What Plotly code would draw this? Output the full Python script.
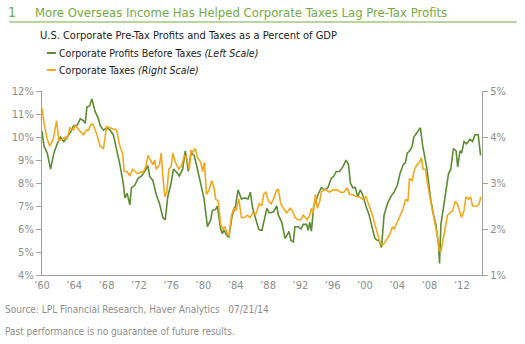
import plotly.graph_objects as go

# Corporate profits before taxes (% of GDP, left scale)
profit_years = [1960.00, 1960.25, 1960.65, 1961.06, 1961.47, 1961.88, 1962.29, 1962.70, 1963.11, 1963.52,
                1963.93, 1964.34, 1964.74, 1965.15, 1965.36, 1965.56, 1965.89, 1966.18, 1966.58, 1966.99,
                1967.20, 1967.61, 1968.02, 1968.43, 1968.83, 1969.24, 1969.65, 1970.06, 1970.27, 1970.55,
                1970.88, 1971.08, 1971.49, 1971.90, 1972.31, 1972.72, 1973.13, 1973.33, 1973.74, 1974.15,
                1974.56, 1974.97, 1975.26, 1975.58, 1975.99, 1976.28, 1976.61, 1977.01, 1977.42, 1977.75,
                1978.12, 1978.45, 1978.85, 1979.26, 1979.67, 1980.08, 1980.49, 1980.90, 1981.10, 1981.51,
                1981.72, 1982.13, 1982.33, 1982.54, 1982.94, 1983.15, 1983.56, 1983.97, 1984.29, 1984.70,
                1985.11, 1985.52, 1985.81, 1986.09, 1986.42, 1986.83, 1987.05,
                1987.24, 1987.85, 1988.14, 1988.67, 1989.08, 1989.28, 1989.69, 1990.10, 1990.31, 1990.59,
                1990.84, 1991.13, 1991.33, 1991.74, 1992.07, 1992.35, 1992.76, 1992.97, 1993.17, 1993.37,
                1993.66, 1993.91, 1994.19, 1994.60, 1995.01, 1995.42, 1995.83, 1996.16, 1996.44, 1996.85,
                1997.26, 1997.67, 1997.96, 1998.20, 1998.49, 1998.81, 1999.10, 1999.43, 1999.71, 2000.12,
                2000.53, 2000.94, 2001.23, 2001.55, 2001.76, 2002.05, 2002.37, 2002.78, 2003.19, 2003.60,
                2004.01, 2004.34, 2004.74, 2005.03, 2005.24, 2005.56, 2005.85, 2006.05, 2006.46, 2006.87,
                2007.16, 2007.48, 2007.69, 2007.89, 2008.18, 2008.51, 2008.79, 2009.12, 2009.24, 2009.41,
                2009.73, 2010.06, 2010.35, 2010.63, 2010.96, 2011.29, 2011.49, 2011.78, 2011.98, 2012.27,
                2012.60, 2013.01, 2013.33, 2013.62, 2014.03, 2014.32]
profit_values = [10.25, 9.6, 9.3, 8.6, 9.3, 9.7, 10.0, 9.8, 10.0, 10.2,
                 10.5, 10.5, 10.8, 10.7, 10.6, 11.3, 11.35, 11.65, 11.1, 10.8,
                 10.5, 10.3, 10.4, 10.3, 10.1, 9.5, 8.8, 8.0, 7.35, 7.55,
                 7.05, 7.8, 7.9, 8.2, 8.3, 8.5, 8.75, 8.3, 8.1, 7.5,
                 7.1, 6.5, 6.4, 7.4, 8.0, 8.6, 8.5, 8.3, 8.6, 9.4,
                 8.5, 9.3, 9.2, 8.6, 7.9, 7.3, 6.1, 6.4, 6.8, 6.85,
                 7.0, 6.0, 5.8, 5.95, 5.7, 5.65, 6.6, 7.0, 7.7, 7.3,
                 7.35, 7.3, 7.6, 6.9, 6.5, 6.0, 5.95,
                 5.94, 6.9, 6.7, 6.74, 7.0, 6.6, 6.3, 5.6, 5.7, 5.9,
                 5.5, 5.44, 6.1, 6.1, 6.0, 6.2, 6.2, 5.94, 6.3, 5.9,
                 7.0, 7.2, 7.5, 7.8, 7.7, 7.8, 8.2, 8.3, 8.5, 8.5,
                 8.7, 9.0, 8.8, 8.0, 7.8, 7.8, 7.4, 7.7, 7.5, 7.0,
                 6.6, 6.0, 5.6, 5.5, 5.5, 5.2, 6.6, 7.1, 7.4, 7.6,
                 7.9, 8.4, 8.8, 8.9, 9.3, 9.4, 9.6, 10.0, 10.2, 10.4,
                 9.6, 9.0, 8.6, 8.0, 7.2, 6.6, 6.2, 5.3, 4.5, 6.2,
                 7.0, 7.8, 8.4, 8.6, 9.5, 9.4, 8.7, 9.4, 9.3, 9.8,
                 9.7, 9.9, 9.8, 10.1, 10.1, 9.2]

# Corporate taxes (% of GDP, right scale)
tax_years = [1960.00, 1960.25, 1960.65, 1960.98, 1961.39, 1961.80, 1962.09, 1962.49, 1962.90, 1963.11,
             1963.44, 1963.93, 1964.13, 1964.54, 1964.83, 1965.15, 1965.48, 1965.77, 1966.05, 1966.30,
             1966.71, 1967.20, 1967.61, 1968.02, 1968.34, 1968.83, 1969.24, 1969.65, 1969.98, 1970.18,
             1970.55, 1970.88, 1971.21, 1971.62, 1971.90, 1972.31, 1972.52, 1972.84, 1973.13, 1973.42,
             1973.74, 1973.95, 1974.15, 1974.56, 1974.76, 1974.97, 1975.21, 1975.46, 1975.71, 1975.99,
             1976.20, 1976.52, 1976.93, 1977.34, 1977.63, 1977.91, 1978.24, 1978.45, 1978.73, 1978.98,
             1979.26, 1979.67, 1979.88, 1980.12, 1980.37, 1980.70, 1981.02, 1981.31, 1981.51, 1981.84,
             1982.13, 1982.41, 1982.66, 1982.94, 1983.15, 1983.48, 1983.76, 1984.05, 1984.38, 1984.70,
             1985.11, 1985.40, 1985.81, 1986.09, 1986.50, 1986.91,
             1987.24, 1987.44, 1987.73, 1988.06, 1988.39, 1988.67, 1989.08, 1989.28, 1989.57, 1989.90,
             1990.31, 1990.72, 1991.00, 1991.33, 1991.74, 1992.07, 1992.35, 1992.64, 1992.84, 1993.17,
             1993.37, 1993.58, 1993.87, 1994.11, 1994.40, 1994.60, 1994.93, 1995.22, 1995.62, 1996.03,
             1996.57, 1996.97, 1997.38, 1997.79, 1998.08, 1998.49, 1998.90, 1999.31, 1999.71, 2000.12,
             2000.53, 2000.94, 2001.23, 2001.55, 2001.88, 2002.17, 2002.45, 2002.78, 2003.11, 2003.40,
             2003.60, 2004.01, 2004.34, 2004.74, 2005.03, 2005.32, 2005.52, 2005.85, 2006.14, 2006.46,
             2006.79, 2006.99, 2007.20, 2007.48, 2007.69, 2008.02, 2008.30, 2008.59, 2008.92, 2009.20,
             2009.41, 2009.65, 2009.94, 2010.23, 2010.55, 2010.88, 2011.17, 2011.45, 2011.70, 2011.98,
             2012.27, 2012.52, 2012.80, 2013.09, 2013.33, 2013.62, 2013.91, 2014.15, 2014.36]
tax_values = [4.625, 4.3, 3.95, 3.8, 3.95, 4.35, 3.925, 3.95, 4.0, 3.95,
              4.2, 4.15, 4.25, 4.15, 4.1, 4.05, 4.15, 4.15, 4.275, 4.275,
              4.1, 3.8, 3.75, 4.225, 4.2, 4.175, 4.15, 3.8, 3.65, 3.25,
              3.25, 3.15, 3.3, 3.25, 3.2, 3.25, 3.225, 3.35, 3.6, 3.5,
              3.4, 3.5, 3.3, 3.4, 3.65, 3.15, 2.7, 2.8, 3.3, 3.35,
              3.65, 3.45, 3.3, 3.4, 3.6, 3.55, 3.3, 3.7, 3.675, 3.75,
              3.55, 3.45, 3.25, 3.45, 2.75, 2.85, 3.05, 2.9, 2.65, 2.6,
              2.1, 2.0, 2.05, 1.9, 1.85, 2.3, 2.45, 2.4, 2.65, 2.25,
              2.25, 2.3, 2.25, 2.35, 2.325, 2.55,
              2.5, 2.75, 2.8, 2.6, 2.55, 2.65, 2.85, 2.85, 2.55, 2.45,
              2.35, 2.45, 2.4, 2.25, 2.2, 2.2, 2.3, 2.25, 2.2, 2.3,
              2.45, 2.35, 2.75, 2.45, 2.6, 2.8, 2.85, 2.85, 2.8, 2.85,
              2.85, 2.8, 2.8, 2.9, 2.75, 2.75, 2.7, 2.7, 2.65, 2.7,
              2.5, 2.3, 2.1, 1.9, 1.7, 1.65, 1.7, 1.8, 1.9, 2.05,
              2.0, 2.15, 2.3, 2.45, 2.65, 2.6, 3.1, 3.05, 3.3, 3.4,
              3.45, 3.55, 3.3, 3.3, 3.05, 2.7, 2.45, 2.2, 1.9, 1.55,
              1.5, 1.75, 2.0, 2.3, 2.35, 2.4, 2.6, 2.55, 2.4, 2.25,
              2.4, 2.7, 2.65, 2.7, 2.5, 2.5, 2.5, 2.55, 2.7]

x_tick_vals = [1960, 1964, 1968, 1972, 1976, 1980, 1984, 1988, 1992, 1996, 2000, 2004, 2008, 2012]
x_tick_text = ["\u201960", "\u201964", "\u201968", "\u201972", "\u201976", "\u201980", "\u201984",
               "\u201988", "\u201992", "\u201996", "\u201900", "\u201904", "\u201908", "\u201912"]
left_ticks = [4, 5, 6, 7, 8, 9, 10, 11, 12]
left_tick_text = ["4%", "5%", "6%", "7%", "8%", "9%", "10%", "11%", "12%"]
right_ticks = [1, 2, 3, 4, 5]
right_tick_text = ["1%", "2%", "3%", "4%", "5%"]

GREEN = "#5b8c32"
ORANGE = "#f2a81d"
TITLE_GREEN = "#74aa45"
GRAY = "#8c8c8c"
FONT = "DejaVu Sans Condensed, Roboto Condensed, Roboto, sans-serif"

W, H = 525, 344
ML, MR, MT, MB = 38, 43, 91, 69
PW, PH = W - ML - MR, H - MT - MB


def px(x):
    return (x - ML) / PW


def py(y):
    return (H - MB - y) / PH


fig = go.Figure()
fig.add_trace(go.Scatter(x=tax_years, y=tax_values, yaxis="y2", mode="lines",
                         line=dict(color=ORANGE, width=1.6), name="Corporate Taxes"))
fig.add_trace(go.Scatter(x=profit_years, y=profit_values, mode="lines",
                         line=dict(color=GREEN, width=1.6), name="Corporate Profits Before Taxes"))

axis_common = dict(showgrid=False, zeroline=False, showline=True, linecolor="#a0a0a0", linewidth=1,
                   tickfont=dict(family=FONT, size=11, color=GRAY))

fig.update_layout(
    width=W, height=H,
    margin=dict(l=ML, r=MR, t=MT, b=MB),
    paper_bgcolor="white", plot_bgcolor="white",
    showlegend=False,
    xaxis=dict(range=[1960, 2014.5], tickvals=x_tick_vals, ticktext=x_tick_text, ticks="",
               **axis_common),
    yaxis=dict(range=[4, 12], tickvals=left_ticks, ticktext=left_tick_text, ticks="outside",
               ticklen=5, tickcolor="#a0a0a0", **axis_common),
    yaxis2=dict(range=[1, 5], tickvals=right_ticks, ticktext=right_tick_text, ticks="outside",
                ticklen=5, tickcolor="#a0a0a0", overlaying="y", side="right", **axis_common),
)


def note(text, x, y, size, color):
    fig.add_annotation(text=text, xref="paper", yref="paper", x=px(x), y=py(y),
                       xanchor="left", yanchor="middle", showarrow=False, borderpad=0,
                       font=dict(family=FONT, size=size, color=color))


note("1", 3, 12, 14, TITLE_GREEN)
note("More Overseas Income Has Helped Corporate Taxes Lag Pre-Tax Profits", 30, 12, 13, TITLE_GREEN)

fig.add_shape(type="line", xref="paper", yref="paper", x0=px(5), x1=px(517),
              y0=py(22), y1=py(22), line=dict(color=TITLE_GREEN, width=1))

note("U.S. Corporate Pre-Tax Profits and Taxes as a Percent of GDP", 35, 36, 11, "#1a1a1a")

legend_items = [("Corporate Profits Before Taxes <i>(Left Scale)</i>", GREEN, 53),
                ("Corporate Taxes <i>(Right Scale)</i>", ORANGE, 70)]
for text, color, ypx in legend_items:
    fig.add_shape(type="line", xref="paper", yref="paper", x0=px(43), x1=px(52),
                  y0=py(ypx), y1=py(ypx), line=dict(color=color, width=2))
    note(text, 54, ypx, 10.5, "#1a1a1a")

note("Source: LPL Financial Research, Haver Analytics   07/21/14", 0, 309, 10, GRAY)
note("Past performance is no guarantee of future results.", 0, 331, 10, GRAY)

fig.write_html("out.html")
